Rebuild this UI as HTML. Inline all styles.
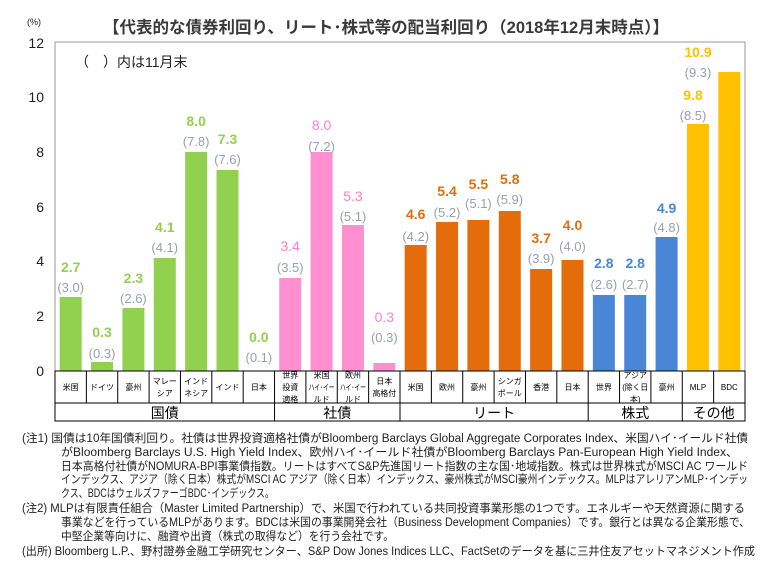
<!DOCTYPE html>
<html><head><meta charset="utf-8"><style>
body{margin:0;background:#fff;}
svg text{font-family:"Liberation Sans","Noto Sans CJK JP",sans-serif;}
</style></head><body>
<svg width="772" height="562" xmlns="http://www.w3.org/2000/svg">
<rect width="772" height="562" fill="#fff"/>
<text x="386" y="33" text-anchor="middle" font-size="16.5" font-weight="bold" fill="#3a3a3a">【代表的な債券利回り、リート･株式等の配当利回り（2018年12月末時点）】</text>
<text x="34" y="25" text-anchor="middle" font-size="9" fill="#222">(%)</text>
<rect x="55" y="42" width="690" height="329" fill="none" stroke="#999" stroke-width="1"/>
<g font-size="14" fill="#222" text-anchor="end">
<text x="44" y="48">12</text><text x="44" y="102">10</text><text x="44" y="157">8</text><text x="44" y="212">6</text><text x="44" y="266">4</text><text x="44" y="321">2</text><text x="44" y="376">0</text>
</g>
<text x="75" y="67" font-size="14" fill="#222">（　）内は11月末</text>
<g id="bars"></g>
<g id="labels"></g>
<g id="table" stroke="#000" stroke-width="1" fill="none"></g>
<g id="tt"></g>
<g font-size="11.5" fill="#222" lengthAdjust="spacingAndGlyphs">
<text x="22" y="442" textLength="726" lengthAdjust="spacingAndGlyphs">(注1) 国債は10年国債利回り。社債は世界投資適格社債がBloomberg Barclays Global Aggregate Corporates Index、米国ハイ･イールド社債</text>
<text x="61" y="456" textLength="677" lengthAdjust="spacingAndGlyphs">がBloomberg Barclays U.S. High Yield Index、欧州ハイ･イールド社債がBloomberg Barclays Pan-European High Yield Index、</text>
<text x="61" y="470" textLength="687" lengthAdjust="spacingAndGlyphs">日本高格付社債がNOMURA-BPI事業債指数。リートはすべてS&amp;P先進国リート指数の主な国･地域指数。株式は世界株式がMSCI AC ワールド</text>
<text x="61" y="483" textLength="687" lengthAdjust="spacingAndGlyphs">インデックス、アジア（除く日本）株式がMSCI AC アジア（除く日本）インデックス、豪州株式がMSCI豪州インデックス。MLPはアレリアンMLP･インデッ</text>
<text x="61" y="497" textLength="213" lengthAdjust="spacingAndGlyphs">クス、BDCはウェルズファーゴBDC･インデックス。</text>
<text x="22" y="512" textLength="723" lengthAdjust="spacingAndGlyphs">(注2) MLPは有限責任組合（Master Limited Partnership）で、米国で行われている共同投資事業形態の1つです。エネルギーや天然資源に関する</text>
<text x="61" y="526" textLength="689" lengthAdjust="spacingAndGlyphs">事業などを行っているMLPがあります。BDCは米国の事業開発会社（Business Development Companies）です。銀行とは異なる企業形態で、</text>
<text x="61" y="540" textLength="333" lengthAdjust="spacingAndGlyphs">中堅企業等向けに、融資や出資（株式の取得など）を行う会社です。</text>
<text x="22" y="555" textLength="733" lengthAdjust="spacingAndGlyphs">(出所) Bloomberg L.P.、野村證券金融工学研究センター、S&amp;P Dow Jones Indices LLC、FactSetのデータを基に三井住友アセットマネジメント作成</text>
</g>
<script>
var ns="http://www.w3.org/2000/svg";
var d=[
["米国",297,"#92d050","2.7","(3.0)",267,287],
["ドイツ",362,"#92d050","0.3","(0.3)",332,353],
["豪州",308,"#92d050","2.3","(2.6)",278,298],
["マレー|シア",258,"#92d050","4.1","(4.1)",227,247],
["インド|ネシア",152,"#92d050","8.0","(7.8)",121,141],
["インド",170,"#92d050","7.3","(7.6)",139,159],
["日本",371,"#92d050","0.0","(0.1)",337,357],
["世界|投資|適格",278,"#ff8fce","3.4","(3.5)",246,267],
["米国|ハイ･イー|ルド",152,"#ff8fce","8.0","(7.2)",125,146],
["欧州|ハイ･イー|ルド",225,"#ff8fce","5.3","(5.1)",196,216],
["日本|高格付",363,"#ff8fce","0.3","(0.3)",317,337],
["米国",245,"#e46c0a","4.6","(4.2)",214,236],
["欧州",222,"#e46c0a","5.4","(5.2)",191,212],
["豪州",220,"#e46c0a","5.5","(5.1)",184,203],
["シンガ|ポール",211,"#e46c0a","5.8","(5.9)",179,199],
["香港",269,"#e46c0a","3.7","(3.9)",238,258],
["日本",260,"#e46c0a","4.0","(4.0)",225,246],
["世界",295,"#4a86d8","2.8","(2.6)",263,284],
["アジア|(除く日|本)",295,"#4a86d8","2.8","(2.7)",263,284],
["豪州",237,"#4a86d8","4.9","(4.8)",208,227],
["MLP",124,"#ffc000","9.8","(8.5)",95,115],
["BDC",72,"#ffc000","10.9","(9.3)",52,72]];
var W=690/22,x0=55;
function el(t,a,p,txt){var e=document.createElementNS(ns,t);for(var k in a)e.setAttribute(k,a[k]);if(txt!=null)e.textContent=txt;document.getElementById(p).appendChild(e);return e;}
d.forEach(function(r,i){
 var cx=x0+W*i+W/2;
 if(r[1]<371)el("rect",{x:cx-11,y:r[1],width:22,height:371-r[1],fill:r[2]},"bars");
 var lx=cx; if(i==20)lx=693; if(i==21)lx=698;
 var vc=r[2]=="#ff8fce"?"#ff7fc4":r[2];
 el("text",{x:lx,y:r[5]+5,"text-anchor":"middle","font-size":14,"font-weight":r[2]=="#ff8fce"?"normal":"bold",fill:vc},"labels",r[3]);
 el("text",{x:lx,y:r[6]+5,"text-anchor":"middle","font-size":13,fill:"#98a0a8"},"labels",r[4]);
 var ls=r[0].split("|"),n=ls.length;
 ls.forEach(function(s,j){var a={x:cx,y:387+(j-(n-1)/2)*12+3,"text-anchor":"middle","font-size":8,fill:"#000"};
  if(s.length>=4){a.textLength=26;a.lengthAdjust="spacingAndGlyphs";}
  el("text",a,"tt",s);});
 if(i>0)el("line",{x1:x0+W*i,y1:371,x2:x0+W*i,y2:[7,11,17,20].indexOf(i)>=0?421:403},"table");
});
el("rect",{x:55,y:371,width:690,height:50},"table");
el("line",{x1:55,y1:403,x2:745,y2:403},"table");
[["国債",0,7],["社債",7,11],["リート",11,17],["株式",17,20],["その他",20,22]].forEach(function(g){
 el("text",{x:x0+W*(g[1]+g[2])/2,y:418,"text-anchor":"middle","font-size":14,fill:"#000"},"tt",g[0]);});
</script>
</svg>
</body></html>
